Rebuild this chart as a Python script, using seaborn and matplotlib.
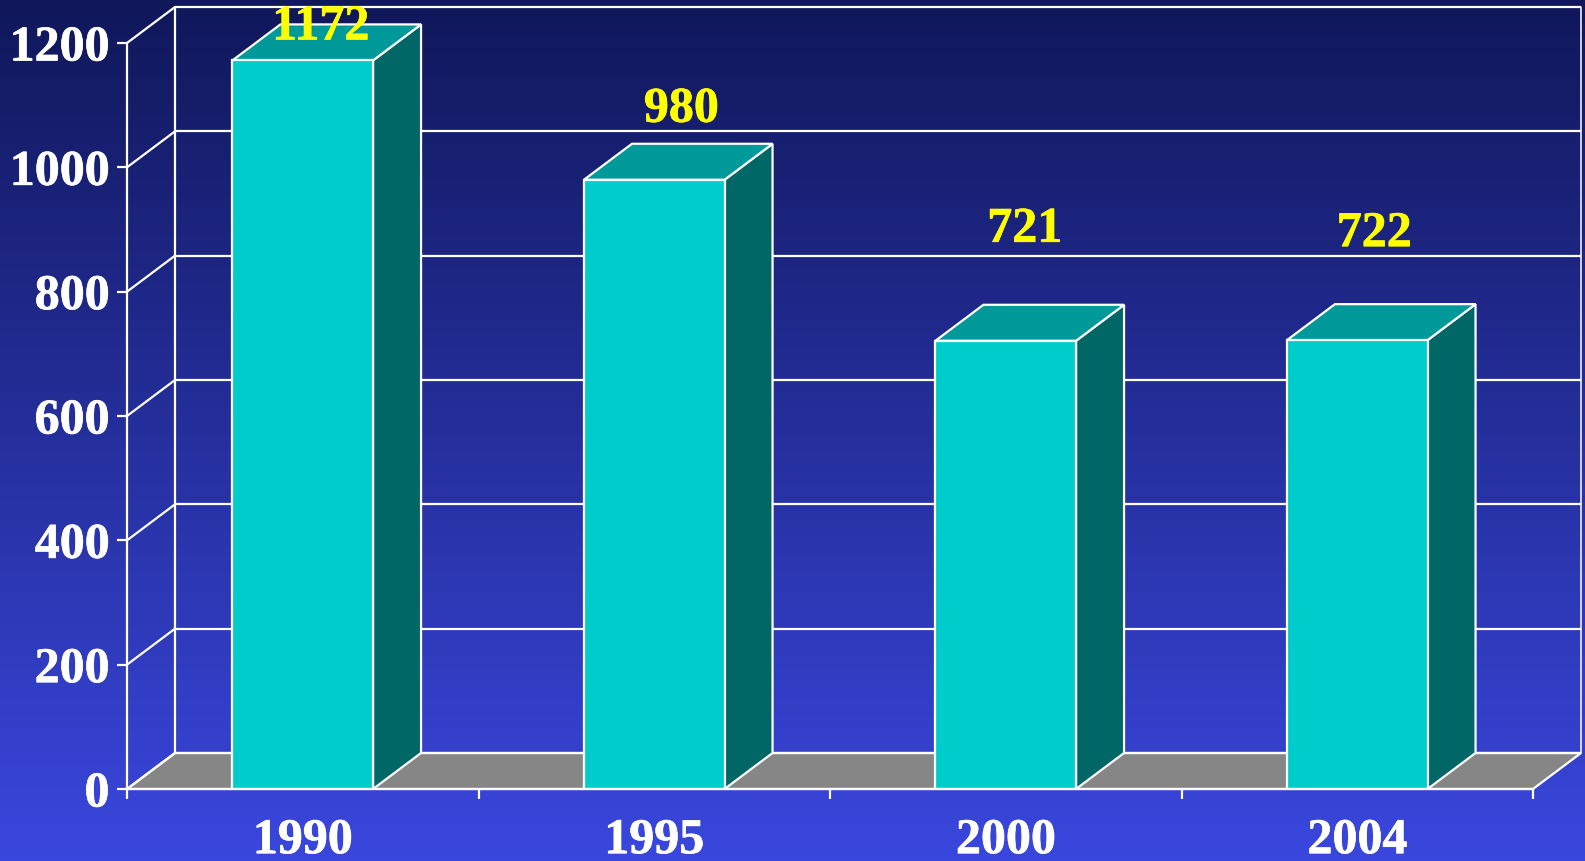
import numpy as np
import seaborn as sns
import matplotlib.pyplot as plt
import matplotlib.patheffects as pe
from matplotlib.colors import LinearSegmentedColormap
from matplotlib.patches import Polygon

years = ['1990', '1995', '2000', '2004']
counts = [1172, 980, 721, 722]
y_ticks = [0, 200, 400, 600, 800, 1000, 1200]

# label offsets from the bar top centre, in pixels
label_dx = [18, 27, 19, 17]
label_dy = [21, 58, 99, 94]

W, H = 1585, 861
FRONT = '#00CCCC'
TOP = '#009999'
SIDE = '#006666'
FLOOR = '#868686'
LW = 1.6
FONT = 'Liberation Serif'
FS = 36

sns.set_theme(style='white')
plt.rcParams['font.family'] = [FONT, 'DejaVu Sans']

fig = plt.figure(figsize=(W / 100, H / 100), dpi=100)

# background gradient
bg = fig.add_axes([0, 0, 1, 1], zorder=0)
grad = LinearSegmentedColormap.from_list('bg', ['#10175A', '#3A47DE'])
bg.imshow(np.linspace(0, 1, 256).reshape(-1, 1), aspect='auto', cmap=grad)
bg.axis('off')

# plot box is the front plane of the 3d chart
left, right, y0, y1 = 127, 1533, 789, 43
ax = fig.add_axes([left / W, 1 - y0 / H, (right - left) / W, (y0 - y1) / H], zorder=1)
ax.patch.set_alpha(0)

n = len(years)
xmin, xmax = -0.5, n - 0.5
ymax = y_ticks[-1]

sns.barplot(x=years, y=counts, ax=ax, color=FRONT, saturation=1, width=0.4,
            edgecolor='white', linewidth=LW, zorder=5)
ax.set_xlim(xmin, xmax)
ax.set_ylim(0, ymax)
bars = list(ax.patches)

# depth of the fake 3d, in data units
dx = 48 / ((right - left) / n)
dy = 36 / ((y0 - y1) / ymax)

# floor
ax.add_patch(Polygon([(xmin, 0), (xmin + dx, dy), (xmax + dx, dy), (xmax, 0)], closed=True,
                     facecolor=FLOOR, edgecolor='white', linewidth=LW, clip_on=False, zorder=2))

# back wall grid and the diagonals
ax.hlines([t + dy for t in y_ticks], xmin + dx, xmax + dx, color='white', lw=LW, clip_on=False, zorder=3)
for t in y_ticks:
    ax.plot([xmin, xmin + dx], [t, t + dy], color='white', lw=LW, clip_on=False, zorder=3)
ax.plot([xmin + dx, xmin + dx], [dy, ymax + dy], color='white', lw=LW, clip_on=False, zorder=3)
ax.plot([xmax + dx, xmax + dx], [dy, ymax + dy], color='white', lw=1.1, clip_on=False, zorder=3)

# side and top faces of each bar
for p in bars:
    x1 = p.get_x()
    x2 = x1 + p.get_width()
    h = p.get_height()
    ax.add_patch(Polygon([(x2, 0), (x2 + dx, dy), (x2 + dx, h + dy), (x2, h)], closed=True,
                         facecolor=SIDE, edgecolor='white', linewidth=LW, clip_on=False, zorder=4))
    ax.add_patch(Polygon([(x1, h), (x1 + dx, h + dy), (x2 + dx, h + dy), (x2, h)], closed=True,
                         facecolor=TOP, edgecolor='white', linewidth=LW, clip_on=False, zorder=4))

# thicken the text a little, the reference is heavier than Liberation bold
heavy = [pe.withStroke(linewidth=0.5, foreground='white')]
heavy_y = [pe.withStroke(linewidth=0.5, foreground='#FFFF00')]

# value labels
for i, v in enumerate(counts):
    ax.annotate(str(v), (i, v), xytext=(label_dx[i] * 0.72, label_dy[i] * 0.72),
                textcoords='offset points', ha='center', va='baseline', color='#FFFF00',
                fontsize=FS, fontweight='bold', zorder=8, annotation_clip=False,
                path_effects=heavy_y)

# axes
sns.despine(ax=ax, top=True, right=True)
for s in ['left', 'bottom']:
    ax.spines[s].set_color('white')
    ax.spines[s].set_linewidth(LW)
    ax.spines[s].set_zorder(6)
ax.set_yticks(y_ticks)
ax.set_yticklabels([str(t) for t in y_ticks])
ax.tick_params(axis='y', length=7.2, width=LW, color='white', pad=5.5, labelcolor='white',
               labelsize=FS, left=True)
ax.set_xticks(np.arange(xmin, xmax + 0.5, 1))
ax.set_xticklabels([''] * (n + 1))
ax.set_xticks(range(n), labels=years, minor=True)
ax.tick_params(axis='x', which='major', length=7.2, width=LW, color='white', bottom=True)
ax.tick_params(axis='x', which='minor', length=0, pad=21, labelcolor='white', labelsize=FS)
for t in ax.get_xticklabels(minor=True) + ax.get_yticklabels():
    t.set_fontweight('bold')
    t.set_path_effects(heavy)
ax.set_xlabel('')
ax.set_ylabel('')

fig.savefig('out.png', dpi=100)
